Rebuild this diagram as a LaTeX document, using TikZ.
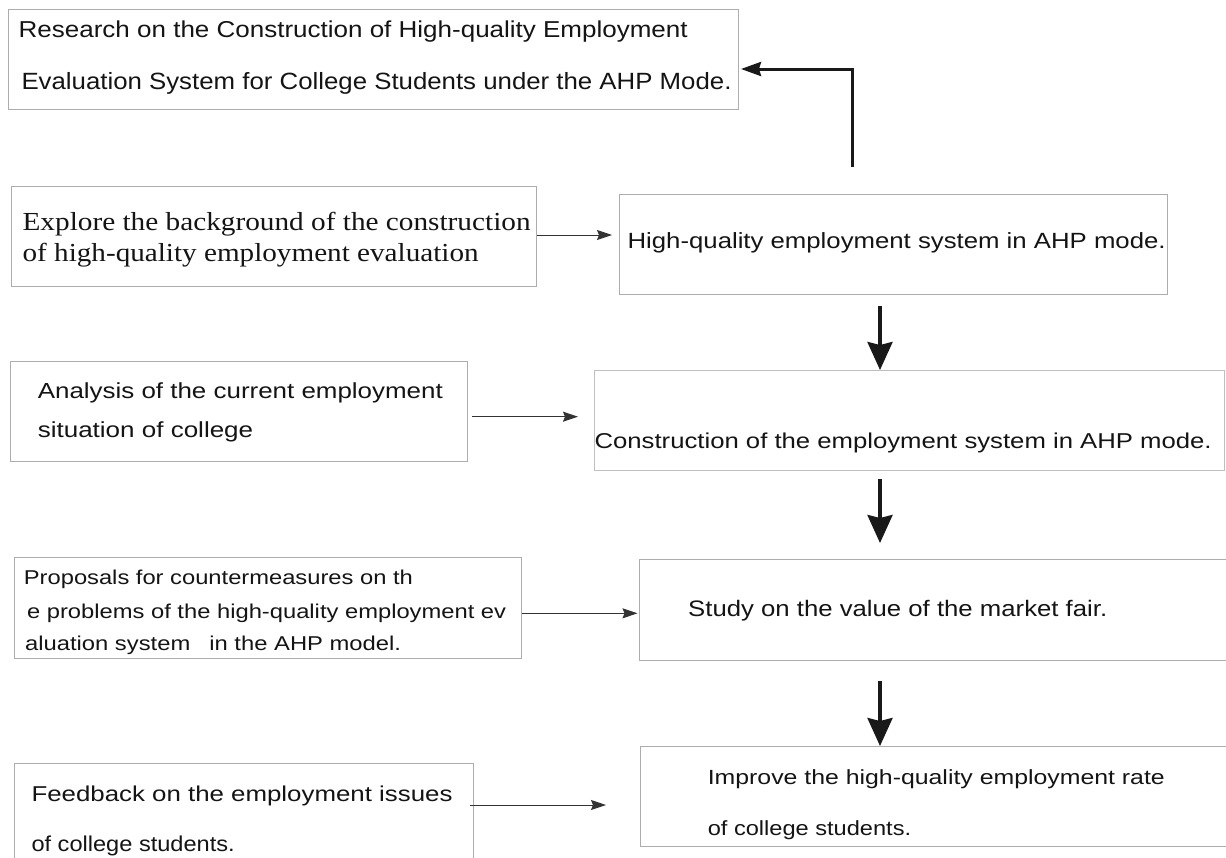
\documentclass[tikz,border=0pt]{standalone}
\usepackage{fontspec}
\usepackage{graphicx}
\usetikzlibrary{arrows.meta}
\newfontfamily\sansf{Liberation Sans}
\newfontfamily\seriff{Liberation Serif}
\newcommand{\sfl}[3]{{\sansf\fontsize{#1}{#1}\selectfont\resizebox{#2pt}{\height}{#3}}}
\newcommand{\rml}[3]{{\seriff\fontsize{#1}{#1}\selectfont\resizebox{#2pt}{\height}{#3}}}
\begin{document}
\begin{tikzpicture}[x=1pt,y=-1pt,
  box/.style={draw=black!32, line width=1.2pt, inner sep=0pt, anchor=north west, fill=none},
  txt/.style={inner sep=0pt, anchor=base west, text=black!92},
  thinarrow/.style={draw=black!80, line width=0.9pt, -{Stealth[length=15pt,width=10pt,inset=2pt]}},
  bigarrow/.style={draw=black!90, line width=3.5pt, -{Stealth[length=28pt,width=25pt,inset=3pt]}},
  backarrow/.style={draw=black!90, line width=3pt, -{Stealth[length=20pt,width=14pt,inset=2pt]}}]
\useasboundingbox[fill=white] (0,0) rectangle (1226,857);

% boxes
\node[box, minimum width=730pt, minimum height=100pt] (b1) at (8,9) {};
\node[box, minimum width=525pt, minimum height=100pt] (b2) at (11,186) {};
\node[box, minimum width=548pt, minimum height=100pt] (b3) at (619,194) {};
\node[box, minimum width=457pt, minimum height=100pt] (b4) at (10,361) {};
\node[box, draw=black!25, minimum width=630pt, minimum height=100pt] (b5) at (594,370) {};
\node[box, minimum width=507pt, minimum height=101pt] (b6) at (14,557) {};
\node[box, minimum width=610pt, minimum height=101pt] (b7) at (638.5,559) {};
\node[box, minimum width=459pt, minimum height=110pt] (b8) at (14,763) {};
\node[box, minimum width=610pt, minimum height=100pt] (b9) at (640,746) {};

% texts
\node[txt] (t1a) at (18.5,37.3) {\sfl{23}{669}{Research on the Construction of High-quality Employment}};
\node[txt] (t1b) at (21.3,89.3) {\sfl{23.5}{710}{Evaluation System for College Students under the AHP Mode.}};
\node[txt] (t2a) at (22.4,230) {\rml{26}{508}{Explore the background of the construction}};
\node[txt] (t2b) at (22.4,261.7) {\rml{26}{456}{of high-quality employment evaluation}};
\node[txt] (t3) at (627.4,248.3) {\sfl{22}{538}{High-quality employment system in AHP mode.}};
\node[txt] (t4a) at (37.6,398.3) {\sfl{21.8}{405}{Analysis of the current employment}};
\node[txt] (t4b) at (37.6,437.3) {\sfl{21.8}{215.4}{situation of college}};
\node[txt] (t5) at (594.4,448) {\sfl{21.5}{617}{Construction of the employment system in AHP mode.}};
\node[txt] (t6a) at (23.7,584.3) {\sfl{20}{389}{Proposals for countermeasures on th}};
\node[txt] (t6b) at (26.9,618.3) {\sfl{20}{479}{e problems of the high-quality employment ev}};
\node[txt] (t6c) at (24.9,650) {\sfl{20}{376}{aluation system\hspace{0.8em}in the AHP model.}};
\node[txt] (t7) at (688,616.7) {\sfl{22.4}{419}{Study on the value of the market fair.}};
\node[txt] (t9a) at (707.6,784.3) {\sfl{20.5}{457}{Improve the high-quality employment rate}};
\node[txt] (t9b) at (707.6,835) {\sfl{20.5}{203.4}{of college students.}};
\node[txt] (t8a) at (31.3,801.7) {\sfl{21.5}{421}{Feedback on the employment issues}};
\node[txt] (t8b) at (31.3,851.7) {\sfl{21.5}{203.3}{of college students.}};

% helper coordinates
\coordinate (c1) at (852,167);
\coordinate (c1t) at (741,69);
\coordinate (y2) at (0,235);
\coordinate (y4) at (0,416.7);
\coordinate (y6) at (0,613.3);
\coordinate (y8) at (0,805);
\coordinate (vx) at (880,0);

% connectors
\draw[backarrow] (c1) |- (c1t);
\draw[thinarrow, shorten >=7pt] (b2.east |- y2) -- (b3.west |- y2);
\draw[thinarrow, shorten <=4pt, shorten >=16pt] (b4.east |- y4) -- (b5.west |- y4);
\draw[thinarrow, shorten >=1pt] (b6.east |- y6) -- (b7.west |- y6);
\draw[thinarrow, shorten <=-4pt, shorten >=34pt] (b8.east |- y8) -- (b9.west |- y8);
\draw[bigarrow, shorten <=11pt] (b3.south -| vx) -- (b5.north -| vx);
\draw[bigarrow, shorten <=8pt, shorten >=16pt] (b5.south -| vx) -- (b7.north -| vx);
\draw[bigarrow, shorten <=20pt] (b7.south -| vx) -- (b9.north -| vx);
\end{tikzpicture}
\end{document}
